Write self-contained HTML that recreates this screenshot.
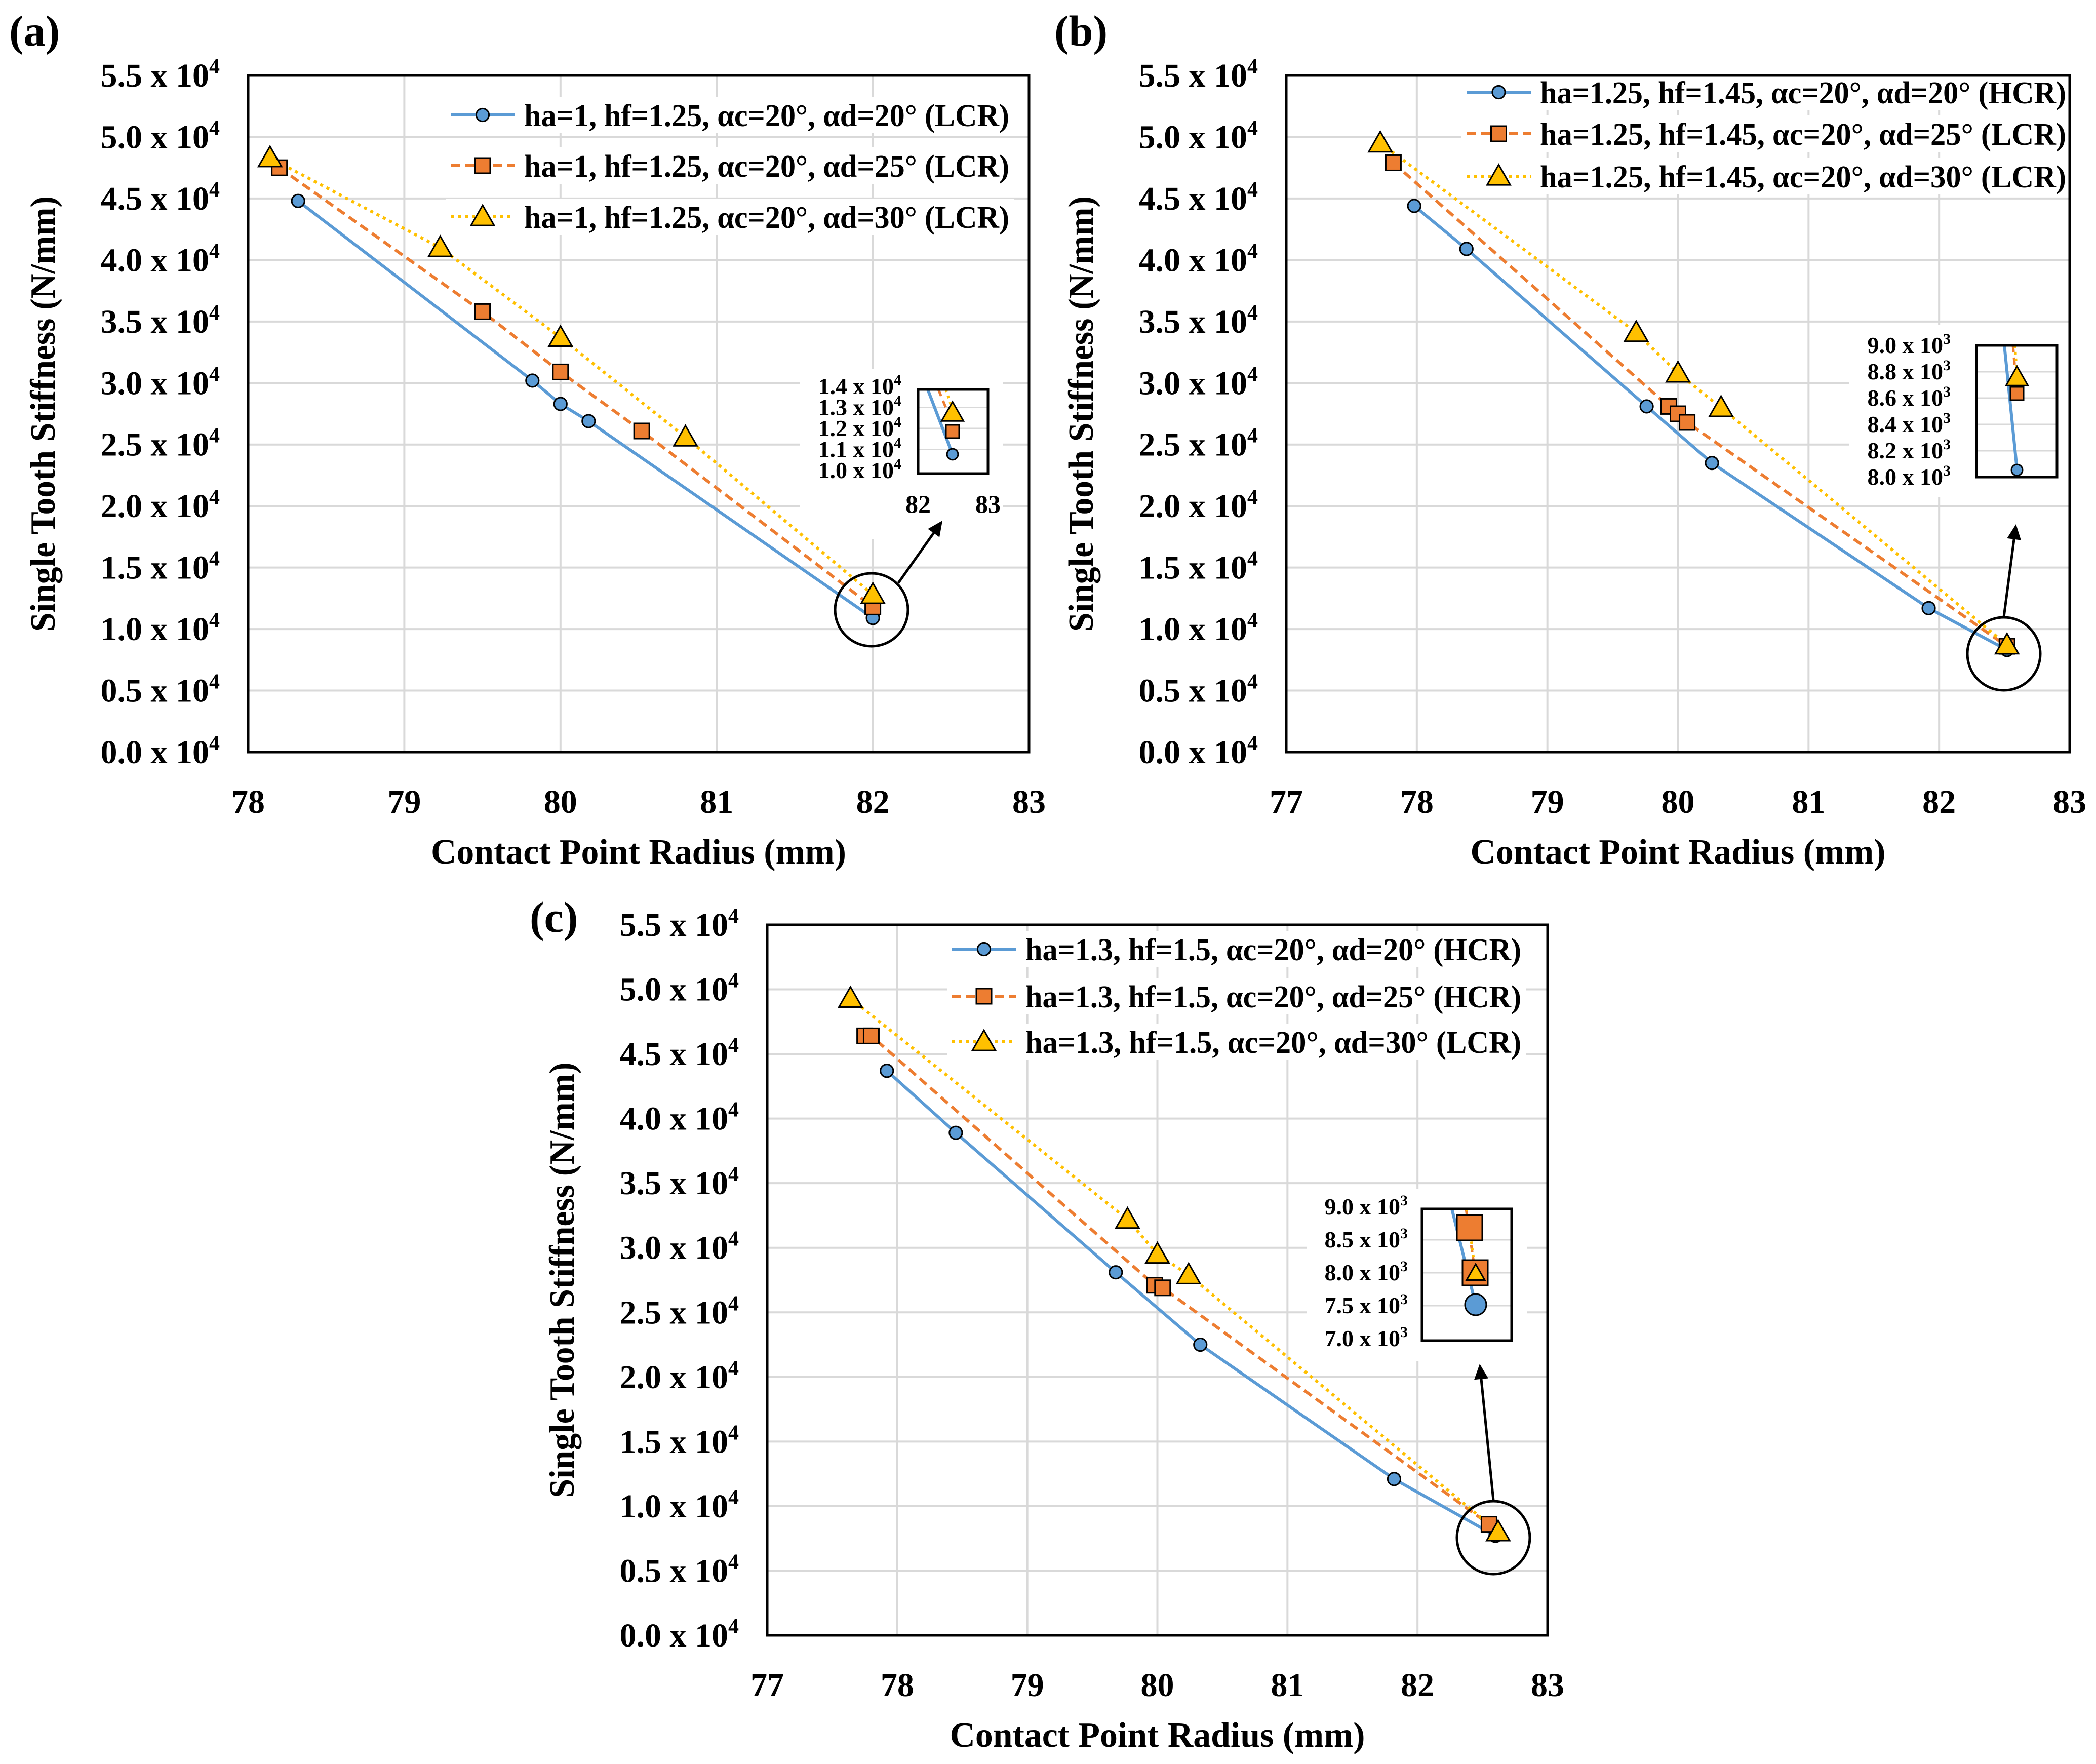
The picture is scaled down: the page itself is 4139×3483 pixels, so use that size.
<!DOCTYPE html>
<html><head><meta charset="utf-8"><style>
html,body{margin:0;padding:0;background:#fff}
svg{display:block}
text{font-family:"Liberation Serif",serif;font-weight:bold;fill:#000}
</style></head><body>
<svg id="fig" xmlns="http://www.w3.org/2000/svg" width="4139" height="3483" viewBox="0 0 4139 3483"></svg>
<script>
// ---------- data ----------
const yTicks = [0,0.5,1,1.5,2,2.5,3,3.5,4,4.5,5,5.5];
const xTicksA = [78,79,80,81,82,83];
const xTicksBC = [77,78,79,80,81,82,83];
const legendA = ["ha=1, hf=1.25, αc=20°, αd=20° (LCR)","ha=1, hf=1.25, αc=20°, αd=25° (LCR)","ha=1, hf=1.25, αc=20°, αd=30° (LCR)"];
const legendB = ["ha=1.25, hf=1.45, αc=20°, αd=20° (HCR)","ha=1.25, hf=1.45, αc=20°, αd=25° (LCR)","ha=1.25, hf=1.45, αc=20°, αd=30° (LCR)"];
const legendC = ["ha=1.3, hf=1.5, αc=20°, αd=20° (HCR)","ha=1.3, hf=1.5, αc=20°, αd=25° (HCR)","ha=1.3, hf=1.5, αc=20°, αd=30° (LCR)"];
const aBlueX=[78.32,79.82,80.0,80.18,82.0], aBlueY=[4.48,3.02,2.83,2.69,1.09];
const aOrgX=[78.2,79.5,80.0,80.52,82.0], aOrgY=[4.75,3.58,3.09,2.61,1.18];
const aYelX=[78.14,79.23,80.0,80.8,82.0], aYelY=[4.83,4.10,3.37,2.56,1.28];
const bBlueX=[77.98,78.38,79.76,80.26,81.92,82.52], bBlueY=[4.44,4.09,2.81,2.35,1.17,0.83];
const bOrgX=[77.82,79.93,80.0,80.07,82.52], bOrgY=[4.79,2.81,2.75,2.68,0.86];
const bYelX=[77.72,79.68,80.0,80.33,82.52], bYelY=[4.95,3.41,3.08,2.80,0.87];
const cBlueX=[77.92,78.45,79.68,80.33,81.82,82.6], cBlueY=[4.37,3.89,2.81,2.25,1.21,0.77];
const cOrgX=[77.75,77.8,79.98,80.04,82.55], cOrgY=[4.64,4.64,2.71,2.69,0.86];
const cYelX=[77.64,79.77,80.0,80.24,82.62], cYelY=[4.93,3.22,2.95,2.79,0.80];
const insetALabels=["1.4 x 10","1.3 x 10","1.2 x 10","1.1 x 10","1.0 x 10"];
const insetBLabels=["9.0 x 10","8.8 x 10","8.6 x 10","8.4 x 10","8.2 x 10","8.0 x 10"];
const insetCLabels=["9.0 x 10","8.5 x 10","8.0 x 10","7.5 x 10","7.0 x 10"];

const NS="http://www.w3.org/2000/svg";
const svg=document.getElementById('fig');
function mk(tag,attrs,parent){const e=document.createElementNS(NS,tag);for(const k in attrs)e.setAttribute(k,attrs[k]);(parent||svg).appendChild(e);return e;}
const BLUE="#5b9bd5",ORG="#ed7d31",YEL="#ffc000";

function marker(g,type,x,y,s){
  let e;
  if(type==='c'){e=mk('circle',{cx:x,cy:y,r:s*0.42,fill:BLUE,stroke:'#000','stroke-width':3},g);}
  else if(type==='s'){e=mk('rect',{x:x-s/2,y:y-s/2,width:s,height:s,fill:ORG,stroke:'#000','stroke-width':3},g);}
  else {const h=s*1.0;e=mk('polygon',{points:`${x},${y-h*0.6} ${x-s*0.6},${y+h*0.45} ${x+s*0.6},${y+h*0.45}`,fill:YEL,stroke:'#000','stroke-width':3},g);}
  return e;
}

function panel(p){
  const g=mk('g',{});
  
  
  const sx=v=>p.L+(v-p.x0)/(p.x1-p.x0)*(p.R-p.L);
  const sy=v=>p.B-(v/5.5)*(p.B-p.T);
  const I=p.ins;
  // grid
  yTicks.forEach(t=>{const l=mk('line',{x1:p.L,x2:p.R,y1:sy(t),y2:sy(t),stroke:'#d9d9d9','stroke-width':4},g);
    });
  p.xt.forEach(t=>{const l=mk('line',{x1:sx(t),x2:sx(t),y1:p.T,y2:p.B,stroke:'#d9d9d9','stroke-width':4},g);
    });
  // inset background (covers grid only)
  mk('rect',{x:I.lx-200,y:I.T-40,width:I.R-I.lx+230,height:I.B-I.T+80+(I.xl?90:0),fill:'#fff'},g);
  // legend background
  p.leg.forEach((txt,i)=>{mk('rect',{x:p.lg.x0-10,y:p.lg.y[i]-36,width:p.lg.t1-p.lg.x0+20,height:72,fill:'#fff'},g);});
  // tick labels
  yTicks.forEach(t=>{const tx=mk('text',{x:p.L-56,y:sy(t)+22,'text-anchor':'end','font-size':66},g);
    tx.textContent=t.toFixed(1)+" x 10";
    const sp=mk('tspan',{dy:-26,'font-size':42},tx);sp.textContent="4";
    });
  p.xt.forEach(t=>{const tx=mk('text',{x:sx(t),y:p.B+120,'text-anchor':'middle','font-size':66},g);tx.textContent=t;
    });
  // axis titles
  const xt=mk('text',{x:(p.L+p.R)/2,y:p.B+220,'text-anchor':'middle','font-size':70,textLength:820,lengthAdjust:'spacingAndGlyphs'},g);xt.textContent="Contact Point Radius (mm)";
  
  const yx=p.L-382, yc=(p.T+p.B)/2;
  const yt=mk('text',{x:yx,y:yc,'text-anchor':'middle','font-size':70,textLength:860,lengthAdjust:'spacingAndGlyphs',transform:`rotate(-90 ${yx} ${yc})`},g);yt.textContent="Single Tooth Stiffness (N/mm)";
  
  const pl=mk('text',{x:p.lab[0],y:p.lab[1],'font-size':86},g);pl.textContent=p.label;
  
  // series
  const ser=[{x:p.bx,y:p.by,c:BLUE,d:'',m:'c',n:'series-ad20'},{x:p.ox,y:p.oy,c:ORG,d:'18 10',m:'s',n:'series-ad25'},{x:p.yx,y:p.yy,c:YEL,d:'6 8',m:'t',n:'series-ad30'}];
  ser.forEach((s,i)=>{
    const pts=s.x.map((v,j)=>sx(v)+','+sy(s.y[j])).join(' ');
    const pln=mk('polyline',{points:pts,fill:'none',stroke:s.c,'stroke-width':6,'stroke-dasharray':s.d},g);
    
  });
  ser.forEach((s,i)=>{
    s.x.forEach((v,j)=>{const m=marker(g,s.m,sx(v),sy(s.y[j]),s.m==='t'?38:30);
      });
  });
  // legend
  const lg=mk('g',{},g);
  p.leg.forEach((txt,i)=>{
    const y=p.lg.y[i];const s=ser[i];
    mk('line',{x1:p.lg.x0,x2:p.lg.x1,y1:y,y2:y,stroke:s.c,'stroke-width':6,'stroke-dasharray':s.d},lg);
    marker(lg,s.m,(p.lg.x0+p.lg.x1)/2,y,s.m==='t'?38:30);
    const t=mk('text',{x:p.lg.t0,y:y+22,'font-size':62,textLength:p.lg.t1-p.lg.t0,lengthAdjust:'spacingAndGlyphs'},lg);t.textContent=txt;
    
  });
  // frame
  const fr=mk('rect',{x:p.L,y:p.T,width:p.R-p.L,height:p.B-p.T,fill:'none',stroke:'#000','stroke-width':5},g);
  
  // inset
  const ig=mk('g',{},g);
  mk('rect',{x:I.L,y:I.T,width:I.R-I.L,height:I.B-I.T,fill:'#fff'},ig);
  const n=I.labels.length;
  I.labels.forEach((l,i)=>{const y=I.T+(I.B-I.T)*i/(n-1)+(I.lo||0);
    if(i>0&&i<n-1) mk('line',{x1:I.L,x2:I.R,y1:y,y2:y,stroke:'#d9d9d9','stroke-width':3},ig);
    const t=mk('text',{x:I.lx,y:y+15,'text-anchor':'end','font-size':46},ig);t.textContent=l;
    const sp=mk('tspan',{dy:-18,'font-size':30},t);sp.textContent=I.exp;
    });
  I.lines.forEach(ln=>mk('line',{x1:ln[0],y1:ln[1],x2:ln[2],y2:ln[3],stroke:ln[4],'stroke-width':ln[4]===BLUE?6:5,'stroke-dasharray':ln[5]||''},ig));
  I.marks.forEach(mm=>marker(ig,mm[0],mm[1],mm[2],mm[3]));
  mk('rect',{x:I.L,y:I.T,width:I.R-I.L,height:I.B-I.T,fill:'none',stroke:'#000','stroke-width':5},ig);
  if(I.xl){I.xl.forEach(a=>{const t=mk('text',{x:a[0],y:a[1],'text-anchor':'middle','font-size':50},ig);t.textContent=a[2];});}
  // circle + arrow
  const ci=mk('circle',{cx:p.circ[0],cy:p.circ[1],r:72,fill:'none',stroke:'#000','stroke-width':5},g);
  
  const a=p.arr;const ang=Math.atan2(a[3]-a[1],a[2]-a[0]);
  const hx=a[2]-30*Math.cos(ang),hy=a[3]-30*Math.sin(ang);
  mk('line',{x1:a[0],y1:a[1],x2:hx,y2:hy,stroke:'#000','stroke-width':5},g);
  const px=-Math.sin(ang)*14,py=Math.cos(ang)*14;
  const ah=mk('polygon',{points:`${a[2]},${a[3]} ${hx+px},${hy+py} ${hx-px},${hy-py}`,fill:'#000'},g);
  
}

panel({name:'panel-a',label:'(a)',lab:[18,90],L:490,R:2032,T:149,B:1485,x0:78,x1:83,xt:xTicksA,
  bx:aBlueX,by:aBlueY,ox:aOrgX,oy:aOrgY,yx:aYelX,yy:aYelY,leg:legendA,
  lg:{x0:890,x1:1016,t0:1035,t1:1993,y:[227,327,428]},
  ins:{L:1813,R:1951,T:769,B:935,lx:1780,labels:insetALabels,exp:'4',lo:-6,
    lines:[[1832,769,1881,897,BLUE],[1853,769,1872,815,ORG,'14 10'],[1868,769,1881,810,YEL,'5 8']],
    marks:[['t',1881,815,36],['s',1881,852,26],['c',1881,897,26]],
    xl:[[1813,1012,'82'],[1951,1012,'83']]},
  circ:[1721,1204],arr:[1774,1151,1861,1028]});
panel({name:'panel-b',label:'(b)',lab:[2082,90],L:2540,R:4087,T:149,B:1485,x0:77,x1:83,xt:xTicksBC,
  bx:bBlueX,by:bBlueY,ox:bOrgX,oy:bOrgY,yx:bYelX,yy:bYelY,leg:legendB,
  lg:{x0:2896,x1:3023,t0:3041,t1:4080,y:[182,264,348]},
  ins:{L:3903,R:4062,T:682,B:942,lx:3852,labels:insetBLabels,exp:'3',lo:0,
    lines:[[3958,682,3983,927,BLUE],[3975,682,3983,776,ORG,'14 10'],[3979,682,3983,739,YEL,'5 8']],
    marks:[['t',3983,745,36],['s',3983,777,26],['c',3983,928,26]]},
  circ:[3957,1291],arr:[3957,1218,3981,1035]});
panel({name:'panel-c',label:'(c)',lab:[1046,1840],L:1515,R:3056,T:1826,B:3229,x0:77,x1:83,xt:xTicksBC,
  bx:cBlueX,by:cBlueY,ox:cOrgX,oy:cOrgY,yx:cYelX,yy:cYelY,leg:legendC,
  lg:{x0:1880,x1:2006,t0:2025,t1:3004,y:[1874,1967,2057]},
  ins:{L:2808,R:2985,T:2387,B:2647,lx:2780,labels:insetCLabels,exp:'3',lo:-4,
    lines:[[2867,2387,2914,2576,BLUE],[2895,2387,2913,2513,ORG,'14 10'],[2896,2387,2913,2505,YEL,'5 8']],
    marks:[['s',2902,2424,50],['s',2913,2513,50],['t',2914,2514,30],['c',2914,2576,50]]},
  circ:[2949,3036],arr:[2949,2962,2922,2693]});
</script>
</body></html>
